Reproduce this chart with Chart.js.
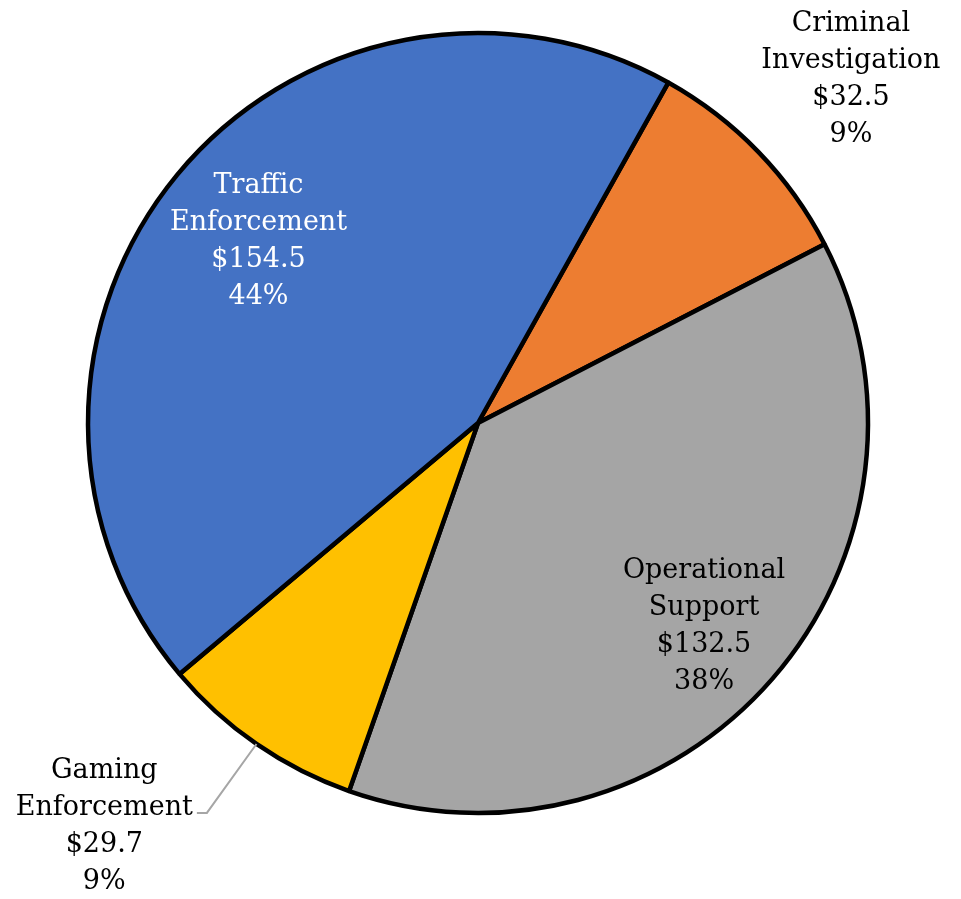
<!DOCTYPE html>
<html lang="en">
<head>
    <meta charset="UTF-8">
    <title>Budget by Division</title>
    <script src="https://cdn.jsdelivr.net/npm/chart.js@4.4.1/dist/chart.umd.min.js"></script>
    <style>
        html, body { margin: 0; padding: 0; background: #fff; }
        canvas { display: block; }
    </style>
</head>
<body>
<canvas id="myChart" width="961" height="899"></canvas>
<script>
    // chart data
    var categories = ['Criminal Investigation', 'Operational Support', 'Gaming Enforcement', 'Traffic Enforcement'];
    var nameLines = [['Criminal', 'Investigation'], ['Operational', 'Support'], ['Gaming', 'Enforcement'], ['Traffic', 'Enforcement']];
    var values = [32.5, 132.5, 29.7, 154.5];
    var sliceColors = ['#ED7D31', '#A5A5A5', '#FFC000', '#4472C4'];

    // where each label sits: angle offset from slice middle (deg), distance as share of radius
    var labelPlace = [
        {dAngle: 1.4, dist: 1.30, color: '#000', leader: false},
        {dAngle: 1, dist: 0.78, color: '#000', leader: false},
        {dAngle: 8.2, dist: 1.41, color: '#000', leader: true},
        {dAngle: 0, dist: 0.73, color: '#fff', leader: false}
    ];

    var total = values.reduce(function (a, b) { return a + b; }, 0);

    var sliceLabels = {
        id: 'sliceLabels',
        afterDraw: function (chart) {
            var ctx = chart.ctx;
            var arcs = chart.getDatasetMeta(0).data;
            var lineH = 37;
            ctx.save();
            ctx.font = '27px "DejaVu Serif"';
            ctx.textAlign = 'center';
            ctx.textBaseline = 'middle';
            arcs.forEach(function (arc, i) {
                var p = labelPlace[i];
                var mid = (arc.startAngle + arc.endAngle) / 2;
                var a = mid + p.dAngle * Math.PI / 180;
                var cx = arc.x + Math.cos(a) * arc.outerRadius * p.dist;
                var cy = arc.y + Math.sin(a) * arc.outerRadius * p.dist;
                var lines = nameLines[i].concat(['$' + values[i].toFixed(1), Math.round(values[i] / total * 100) + '%']);
                var top = cy - (lines.length - 1) * lineH / 2;
                ctx.fillStyle = p.color;
                lines.forEach(function (t, k) {
                    ctx.fillText(t, cx, top + k * lineH);
                });
                if (p.leader) {
                    var w = ctx.measureText(nameLines[i][1]).width;
                    var ly = top + lineH + 5;
                    var lx = cx + w / 2 + 4;
                    var ex = arc.x + Math.cos(mid) * arc.outerRadius;
                    var ey = arc.y + Math.sin(mid) * arc.outerRadius;
                    ctx.strokeStyle = '#A6A6A6';
                    ctx.lineWidth = 2;
                    ctx.beginPath();
                    ctx.moveTo(lx, ly);
                    ctx.lineTo(lx + 10, ly);
                    ctx.lineTo(ex, ey);
                    ctx.stroke();
                }
            });
            ctx.restore();
        }
    };

    var ctx = document.querySelector('#myChart').getContext('2d');
    new Chart(ctx, {
        type: 'pie',
        data: {
            labels: categories,
            datasets: [{
                data: values,
                backgroundColor: sliceColors,
                borderColor: '#000',
                borderWidth: 4.5
            }]
        },
        options: {
            responsive: false,
            animation: false,
            rotation: 29.2,
            radius: 390,
            layout: { padding: { left: 0, right: 5, top: 0, bottom: 53 } },
            plugins: {
                legend: { display: false },
                tooltip: { enabled: false }
            }
        },
        plugins: [sliceLabels]
    });
</script>
</body>
</html>
